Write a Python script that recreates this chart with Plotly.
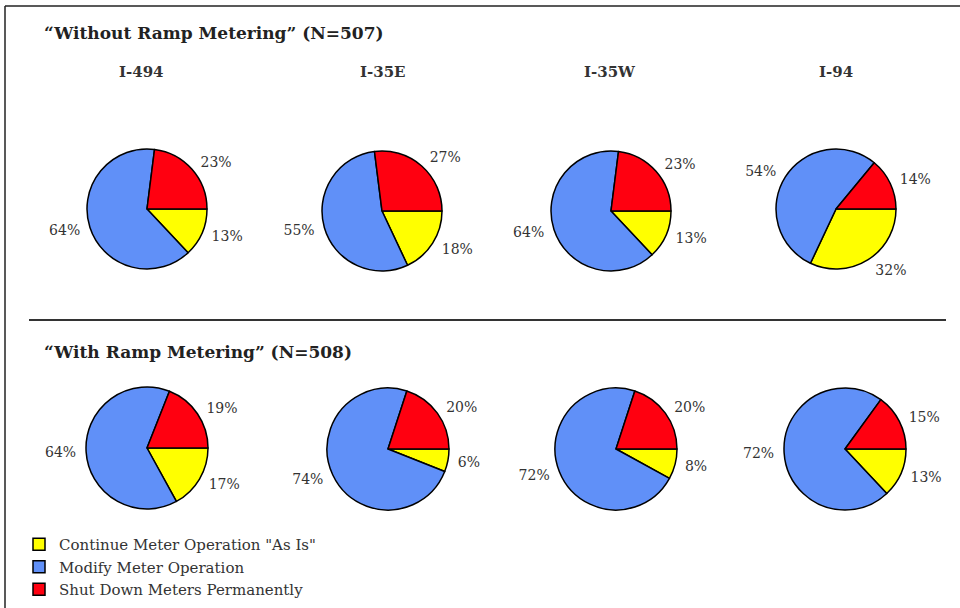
import plotly.graph_objects as go

# ---- data ----
categories = ['Continue Meter Operation "As Is"', "Modify Meter Operation", "Shut Down Meters Permanently"]
highways = ["I-494", "I-35E", "I-35W", "I-94"]
without_continue = [13, 18, 13, 32]
without_modify = [64, 55, 64, 54]
without_shutdown = [23, 27, 23, 14]
with_continue = [17, 6, 8, 13]
with_modify = [64, 74, 72, 72]
with_shutdown = [19, 20, 20, 15]
title_without = "“Without Ramp Metering” (N=507)"
title_with = "“With Ramp Metering” (N=508)"

# ---- layout / style ----
W, H = 960, 608
colors = ["#FFFF00", "#6090F8", "#FF0010"]
SERIF = "DejaVu Serif"

row1_centers = [(147, 209), (382, 211), (611, 211), (836, 209)]
row2_centers = [(147, 448), (388, 449), (616, 449), (845, 449)]
R1, R2 = 60, 61
LABEL_PAD = 6


def dom(c, r):
    cx, cy = c
    return dict(x=[(cx - r) / W, (cx + r) / W], y=[1 - (cy + r) / H, 1 - (cy - r) / H])


fig = go.Figure()
rows = [
    (row1_centers, R1, without_continue, without_modify, without_shutdown),
    (row2_centers, R2, with_continue, with_modify, with_shutdown),
]
first = True
for centers, r, cont, mod, shut in rows:
    for i, hw in enumerate(highways):
        vals = [cont[i], mod[i], shut[i]]
        # the pie itself
        fig.add_trace(go.Pie(
            labels=categories,
            values=vals,
            sort=False,
            direction="clockwise",
            rotation=90,
            marker=dict(colors=colors, line=dict(color="#000000", width=1.5)),
            textinfo="none",
            domain=dom(centers[i], r),
            showlegend=first,
            hoverinfo="label+value",
            name=hw,
        ))
        # slightly larger invisible pie carrying the outside percentage labels
        fig.add_trace(go.Pie(
            labels=categories,
            values=vals,
            sort=False,
            direction="clockwise",
            rotation=90,
            marker=dict(colors=["rgba(0,0,0,0)"] * 3, line=dict(width=0)),
            textposition="outside",
            texttemplate="%{value}%",
            textfont=dict(family=SERIF, size=14, color="#333333"),
            domain=dom(centers[i], r + LABEL_PAD),
            showlegend=False,
            hoverinfo="skip",
            name=hw + " labels",
        ))
        first = False

annotations = [
    dict(text="<b>" + title_without + "</b>", x=42 / W, y=1 - 33 / H, xanchor="left", yanchor="middle",
         font=dict(family=SERIF, size=17, color="#222222"), showarrow=False, xref="paper", yref="paper"),
    dict(text="<b>" + title_with + "</b>", x=42 / W, y=1 - 352 / H, xanchor="left", yanchor="middle",
         font=dict(family=SERIF, size=17, color="#222222"), showarrow=False, xref="paper", yref="paper"),
]
sub_x = [141, 383, 610, 836]
for i, hw in enumerate(highways):
    annotations.append(dict(text="<b>" + hw + "</b>", x=sub_x[i] / W, y=1 - 72 / H, xanchor="center",
                            yanchor="middle", font=dict(family=SERIF, size=15, color="#333333"),
                            showarrow=False, xref="paper", yref="paper"))

shapes = [
    # frame (top and left edges visible)
    dict(type="line", xref="paper", yref="paper", x0=5 / W, x1=1.02, y0=1 - 6 / H, y1=1 - 6 / H,
         line=dict(color="#222222", width=1.5)),
    dict(type="line", xref="paper", yref="paper", x0=5 / W, x1=5 / W, y0=1 - 6 / H, y1=-0.02,
         line=dict(color="#222222", width=1.5)),
    # separator
    dict(type="line", xref="paper", yref="paper", x0=29 / W, x1=946 / W, y0=1 - 320 / H, y1=1 - 320 / H,
         line=dict(color="#333333", width=2)),
]

fig.update_layout(
    width=W, height=H,
    margin=dict(l=0, r=0, t=0, b=0),
    paper_bgcolor="white", plot_bgcolor="white",
    annotations=annotations,
    shapes=shapes,
    legend=dict(x=19 / W, y=1 - 528 / H, xanchor="left", yanchor="top",
                font=dict(family=SERIF, size=15, color="#333333"),
                itemwidth=30, tracegroupgap=0, bgcolor="rgba(0,0,0,0)"),
)

fig.write_html("out.html", config={"displayModeBar": False},
               post_script="document.body.style.margin='0px';")
